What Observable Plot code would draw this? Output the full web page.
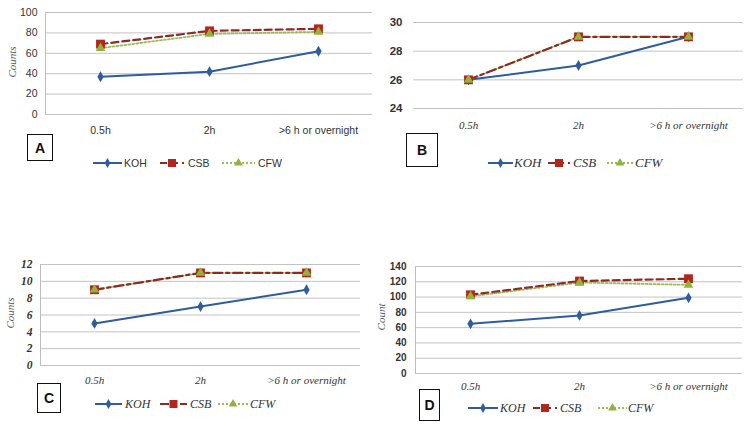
<!DOCTYPE html>
<html><head><meta charset="utf-8">
<script src="https://cdn.jsdelivr.net/npm/d3@7"></script>
<script src="https://cdn.jsdelivr.net/npm/@observablehq/plot@0.6"></script>
<style>
body{margin:0;background:#fff;}
#wrap{position:relative;width:747px;height:425px;overflow:hidden;background:#fff;}
.pnl{position:absolute;}
.box{position:absolute;border:1.5px solid #111;font:bold 14px "Liberation Sans",Arial,sans-serif;color:#111;display:flex;align-items:center;justify-content:center;box-sizing:border-box;background:#fff;}
.ylab{position:absolute;transform:translate(-50%,-50%) rotate(-90deg);font:italic 11px "Liberation Serif",serif;color:#555;white-space:nowrap;}
.lg{position:absolute;white-space:nowrap;color:#333;transform:translateY(-50%);}
</style></head><body><div id="wrap"></div>
<script>
// ---- data ----
const categories = ["0.5h", "2h", ">6 h or overnight"];
const seriesNames = ["KOH", "CSB", "CFW"];
const panelLetters = ["A", "B", "C", "D"];

const A_KOH = [37, 42, 62];
const A_CSB = [69, 82, 84];
const A_CFW = [65, 79, 81];
const A_yTicks = [0, 20, 40, 60, 80, 100];

const B_KOH = [26, 27, 29];
const B_CSB = [26, 29, 29];
const B_CFW = [26, 29, 29];
const B_yTicks = [24, 26, 28, 30];

const C_KOH = [5, 7, 9];
const C_CSB = [9, 11, 11];
const C_CFW = [9, 11, 11];
const C_yTicks = [0, 2, 4, 6, 8, 10, 12];

const D_KOH = [65, 76, 99];
const D_CSB = [103, 121, 124];
const D_CFW = [101, 119, 116];
const D_yTicks = [0, 20, 40, 60, 80, 100, 120, 140];

const yLabels = {A: "Counts", C: "Counts", D: "Count"};

// ---- styles ----
const SANS = "'Liberation Sans Narrow','Liberation Sans',Arial,sans-serif";
const SERIF = "'Liberation Serif','Times New Roman',serif";
const style = {
  KOH: {stroke: "#2f5d9b", width: 2, dashA: null, dashB: null, symbol: "diamond", fill: "#2f5d9b", r: 3.3},
  CSB: {stroke: "#8e2a24", width: 2.2, dashA: "7,4", dashB: "9,4,3,4", symbol: "square", fill: "#b3261e", r: 5},
  CFW: {stroke: "#9bbb59", width: 1.8, dashA: "2,2", dashB: "2,2", symbol: "triangle", fill: "#8fb33c", r: 3.6}
};

const panels = [
  {id: "A", left: 0, top: 0, width: 373, height: 150, mL: 45, mR: 1, mT: 12, mB: 36,
   values: [A_KOH, A_CSB, A_CFW], ticks: A_yTicks, domain: [0, 100], leftLine: true, dashKind: "dashA",
   yFont: {fontFamily: SANS, fontSize: 10.5, fontStyle: "normal", fontWeight: "normal"}, yPad: 8,
   xFont: {fontFamily: SANS, fontSize: 10.5, fontStyle: "normal"}, xPad: 12,
   ylab: {x: 12, y: 62}, box: [27, 134, 26, 27],
   legend: {y: 163, font: "10.5px " + SANS, items: [[93, 122, 124], [160, 184, 188], [222, 255, 258]]}},
  {id: "B", left: 370, top: 0, width: 377, height: 140, mL: 43, mR: 4, mT: 22, mB: 32,
   values: [B_KOH, B_CSB, B_CFW], ticks: B_yTicks, domain: [24, 30], leftLine: false, dashKind: "dashB",
   yFont: {fontFamily: SANS, fontSize: 11.5, fontStyle: "normal", fontWeight: "bold"}, yPad: 11,
   xFont: {fontFamily: SERIF, fontSize: 11, fontStyle: "italic"}, xPad: 13,
   ylab: null, box: [406, 133, 32, 34],
   legend: {y: 163, font: "italic 13px " + SERIF, items: [[488, 513, 514], [548, 570, 573], [607, 633, 635]]}},
  {id: "C", left: 0, top: 250, width: 370, height: 140, mL: 40, mR: 10, mT: 14, mB: 25,
   values: [C_KOH, C_CSB, C_CFW], ticks: C_yTicks, domain: [0, 12], leftLine: true, dashKind: "dashB",
   yFont: {fontFamily: SERIF, fontSize: 11.5, fontStyle: "italic", fontWeight: "bold"}, yPad: 8,
   xFont: {fontFamily: SERIF, fontSize: 11, fontStyle: "italic"}, xPad: 11,
   ylab: {x: 10, y: 313}, box: [37, 383, 24, 30],
   legend: {y: 404, font: "italic 12px " + SERIF, items: [[95, 122, 125], [160, 187, 190], [218, 248, 250]]}},
  {id: "D", left: 370, top: 250, width: 377, height: 145, mL: 45, mR: 5, mT: 16, mB: 22,
   values: [D_KOH, D_CSB, D_CFW], ticks: D_yTicks, domain: [0, 140], leftLine: true, dashKind: "dashA",
   yFont: {fontFamily: SANS, fontSize: 10, fontStyle: "normal", fontWeight: "bold"}, yPad: 9,
   xFont: {fontFamily: SERIF, fontSize: 11, fontStyle: "italic"}, xPad: 9,
   ylab: {x: 381, y: 317}, box: [419, 389, 21, 32],
   legend: {y: 408, font: "italic 12px " + SERIF, items: [[468, 498, 500], [533, 557, 560], [598, 627, 628]]}}
];

const wrap = document.getElementById("wrap");

function symbolPath(name, r) {
  const t = {diamond: d3.symbolDiamond, square: d3.symbolSquare, triangle: d3.symbolTriangle}[name];
  return d3.symbol(t, Math.PI * r * r)();
}

for (const p of panels) {
  const rows = [];
  seriesNames.forEach((s, i) => p.values[i].forEach((v, j) => rows.push({series: s, cat: categories[j], v})));
  const marks = [
    Plot.gridY(p.ticks, {stroke: "#c3c3c3", strokeOpacity: 1, strokeWidth: 1}),
    Plot.axisY(p.ticks, {tickSize: 0, tickPadding: p.yPad, label: null, fill: "#333", ...p.yFont}),
    Plot.axisX({tickSize: 0, tickPadding: p.xPad, label: null, fill: "#333", ...p.xFont})
  ];
  if (p.leftLine) marks.push(Plot.frame({anchor: "left", stroke: "#bdbdbd"}));
  // line draw order: KOH, CFW, CSB (CSB on top as in the reference)
  for (const s of ["KOH", "CFW", "CSB"]) {
    const st = style[s];
    const data = rows.filter(d => d.series === s);
    marks.push(Plot.line(data, {x: "cat", y: "v", stroke: st.stroke, strokeWidth: st.width,
      strokeDasharray: st[p.dashKind] || undefined}));
  }
  for (const s of ["KOH", "CSB", "CFW"]) {
    const st = style[s];
    const data = rows.filter(d => d.series === s);
    marks.push(Plot.dot(data, {x: "cat", y: "v", symbol: st.symbol, fill: st.fill, stroke: "none", r: st.r}));
  }
  const svg = Plot.plot({
    width: p.width, height: p.height,
    marginLeft: p.mL, marginRight: p.mR, marginTop: p.mT, marginBottom: p.mB,
    x: {type: "point", domain: categories, padding: 0.5},
    y: {domain: p.domain},
    style: {background: "transparent", overflow: "visible"},
    marks
  });
  svg.classList.add("pnl");
  svg.style.left = p.left + "px";
  svg.style.top = p.top + "px";
  wrap.appendChild(svg);

  // panel letter box
  const b = document.createElement("div");
  b.className = "box";
  b.textContent = p.id;
  Object.assign(b.style, {left: p.box[0] + "px", top: p.box[1] + "px", width: p.box[2] + "px", height: p.box[3] + "px"});
  wrap.appendChild(b);

  // y label
  if (p.ylab) {
    const yl = document.createElement("div");
    yl.className = "ylab";
    yl.textContent = yLabels[p.id];
    Object.assign(yl.style, {left: p.ylab.x + "px", top: p.ylab.y + "px"});
    wrap.appendChild(yl);
  }

  // legend
  seriesNames.forEach((s, i) => {
    const [x0, x1, tx] = p.legend.items[i];
    const st = style[s];
    const w = x1 - x0;
    const sw = d3.create("svg").attr("width", w).attr("height", 12)
      .style("position", "absolute").style("left", x0 + "px").style("top", (p.legend.y - 6) + "px");
    sw.append("line").attr("x1", 0).attr("x2", w).attr("y1", 6).attr("y2", 6)
      .attr("stroke", st.stroke).attr("stroke-width", st.width)
      .attr("stroke-dasharray", st[p.dashKind] || null);
    sw.append("path").attr("d", symbolPath(st.symbol, st.r * 0.9)).attr("transform", `translate(${w / 2},6)`).attr("fill", st.fill);
    wrap.appendChild(sw.node());
    const t = document.createElement("div");
    t.className = "lg";
    t.textContent = s;
    t.style.font = p.legend.font;
    t.style.left = tx + "px";
    t.style.top = p.legend.y + "px";
    wrap.appendChild(t);
  });
}
</script></body></html>
